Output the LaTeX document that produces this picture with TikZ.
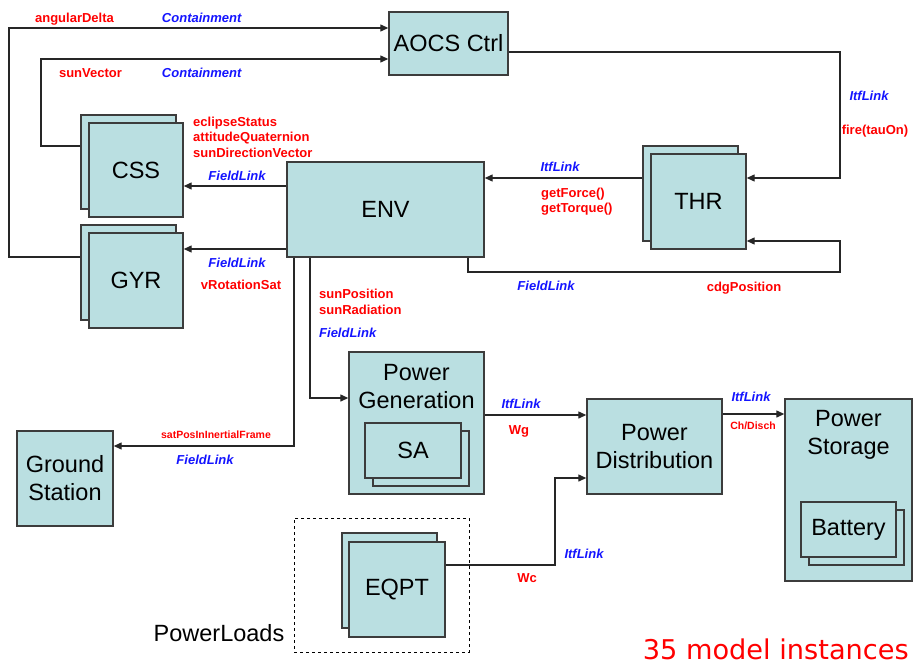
\documentclass[tikz,border=0pt]{standalone}
\usepackage{fontspec}
\setmainfont{Liberation Sans}
\newfontfamily\notefont{DejaVu Sans}
\usetikzlibrary{arrows.meta}

\definecolor{boxfill}{RGB}{186,223,225}
\definecolor{boxline}{RGB}{60,60,60}
\definecolor{flowred}{RGB}{255,0,0}
\definecolor{linkblue}{RGB}{20,20,255}

\tikzset{
  unit/.style={draw=boxline, fill=boxfill, line width=1.4pt, inner sep=0pt,
               align=center, font=\fontsize{23.5}{28}\selectfont},
  caption/.style={inner sep=0pt, align=center, font=\fontsize{23.5}{28}\selectfont},
  conn/.style={draw=black!85, line width=1.3pt},
  arr/.style={conn, -{Triangle[length=8pt,width=7pt]}},
  datalbl/.style={inner sep=0pt, text=flowred, align=left,
                  font=\fontsize{13}{15.5}\selectfont\bfseries},
  smalllbl/.style={inner sep=0pt, text=flowred,
                   font=\fontsize{10.5}{12}\selectfont\bfseries},
  kindlbl/.style={inner sep=0pt, text=linkblue,
                  font=\fontsize{13}{15.5}\selectfont\bfseries\itshape},
}

\begin{document}
\begin{tikzpicture}[x=1pt, y=-1pt]
\useasboundingbox (0,0) rectangle (913,666);

% ---- component boxes ----
\node[unit, minimum width=119pt, minimum height=63pt] (aocs) at (448.5,43.5) {AOCS Ctrl};

\node[unit, minimum width=95pt, minimum height=94pt] (cssb) at (128.5,162) {};
\node[unit, minimum width=94pt, minimum height=94pt] (css) at (136,170) {CSS};

\node[unit, minimum width=95pt, minimum height=95pt] (gyrb) at (128.5,272.5) {};
\node[unit, minimum width=94pt, minimum height=95pt] (gyr) at (136,280.5) {GYR};

\node[unit, minimum width=197pt, minimum height=95pt] (env) at (385.5,209.5) {ENV};

\node[unit, minimum width=95pt, minimum height=95pt] (thrb) at (690.5,193.5) {};
\node[unit, minimum width=95pt, minimum height=95pt] (thr) at (698.5,201.5) {THR};

\node[unit, minimum width=96pt, minimum height=95pt] (gs) at (65,478.5) {Ground\\Station};

\node[unit, minimum width=135pt, minimum height=142pt] (pg) at (416.5,423) {};
\node[caption] (pgt) at (416.5,387) {Power\\Generation};
\node[unit, minimum width=96pt, minimum height=55pt] (sab) at (421,458.5) {};
\node[unit, minimum width=96pt, minimum height=55pt] (sa) at (413,450.5) {SA};

\node[unit, minimum width=135pt, minimum height=95pt] (pd) at (654.5,446.5) {Power\\Distribution};

\node[unit, minimum width=127pt, minimum height=182pt] (ps) at (848.5,490) {};
\node[caption] (pst) at (848.5,434.5) {Power\\Storage};
\node[unit, minimum width=95pt, minimum height=55pt] (batb) at (856.5,537.5) {};
\node[unit, minimum width=95pt, minimum height=55pt] (bat) at (848.5,529.5) {Battery};

\node[draw=black, dashed, line width=1pt, minimum width=175pt, minimum height=134pt,
      inner sep=0pt] (loads) at (381.5,585) {};
\node[unit, minimum width=95pt, minimum height=95pt] (eqptb) at (389.5,580.5) {};
\node[unit, minimum width=96pt, minimum height=95pt] (eqpt) at (397,589.5) {EQPT};

% ---- connectors ----
\draw[arr] ([yshift=15.5pt]gyrb.west) -- (9,257) -- (9,28) -- ([yshift=15.5pt]aocs.west);
\draw[arr] ([yshift=16pt]cssb.west) -- (41,146) -- (41,59) -- ([yshift=-15.5pt]aocs.west);
\draw[arr] ([yshift=-8.5pt]aocs.east) -- (840,52) -- (840,178) -- ([yshift=23.5pt]thr.east);
\draw[arr] ([yshift=15.5pt]thrb.west) -- ([yshift=31.5pt]env.east);
\draw[arr] ([xshift=82.5pt]env.south) -- (468,272) -- (840,272) -- (840,241) -- ([yshift=-39.5pt]thr.east);
\draw[arr] ([yshift=23.5pt]env.west) -- ([yshift=-16pt]css.east);
\draw[arr] ([yshift=-39.5pt]env.west) -- ([yshift=31.5pt]gyr.east);
\draw[arr] ([xshift=-75.5pt]env.south) -- (310,398) -- ([yshift=25pt]pg.west);
\draw[arr] ([xshift=-91.5pt]env.south) -- (294,446) -- ([yshift=32.5pt]gs.east);
\draw[arr] ([yshift=8pt]pg.east) -- ([yshift=31.5pt]pd.west);
\draw[arr] ([yshift=32.5pt]pd.east) -- ([yshift=76pt]ps.west);
\draw[arr] ([yshift=24.5pt]eqpt.east) -- (555,565) -- (555,478) -- ([yshift=-31.5pt]pd.west);

% ---- connector labels ----
\node[datalbl] (l1) at (74.5,19.5) {angularDelta};
\node[kindlbl] (k1) at (201.7,18) {Containment};
\node[datalbl] (l2) at (90.5,72.7) {sunVector};
\node[kindlbl] (k2) at (201.7,73) {Containment};
\node[datalbl, anchor=west] (l3) at (193,137) {eclipseStatus\\attitudeQuaternion\\sunDirectionVector};
\node[kindlbl] (k3) at (237,176) {FieldLink};
\node[kindlbl] (k4) at (237,263) {FieldLink};
\node[datalbl] (l4) at (241,285) {vRotationSat};
\node[kindlbl] (k5) at (560,167) {ItfLink};
\node[datalbl, anchor=west] (l5) at (541,201.5) {getForce()\\getTorque()};
\node[kindlbl] (k6) at (869,96) {ItfLink};
\node[datalbl] (l6) at (875,131) {fire(tauOn)};
\node[kindlbl] (k7) at (546,286) {FieldLink};
\node[datalbl] (l7) at (744,288) {cdgPosition};
\node[datalbl, anchor=west] (l8) at (319,302) {sunPosition\\sunRadiation};
\node[kindlbl, anchor=west] (k8) at (319,333) {FieldLink};
\node[smalllbl] (l9) at (216,435) {satPosInInertialFrame};
\node[kindlbl] (k9) at (205,460) {FieldLink};
\node[kindlbl] (k10) at (521,404) {ItfLink};
\node[datalbl] (l10) at (519,431) {Wg};
\node[kindlbl] (k11) at (751,397) {ItfLink};
\node[smalllbl] (l11) at (753,426) {Ch/Disch};
\node[kindlbl] (k12) at (584,554) {ItfLink};
\node[datalbl] (l12) at (527,578) {Wc};

% ---- free text ----
\node[caption] (loadsname) at (219,633) {PowerLoads};
\node[inner sep=0pt, anchor=base east, text=flowred,
      font=\notefont\fontsize{27.2}{31}\selectfont] (count) at (909,659) {35 model instances};
\end{tikzpicture}
\end{document}
